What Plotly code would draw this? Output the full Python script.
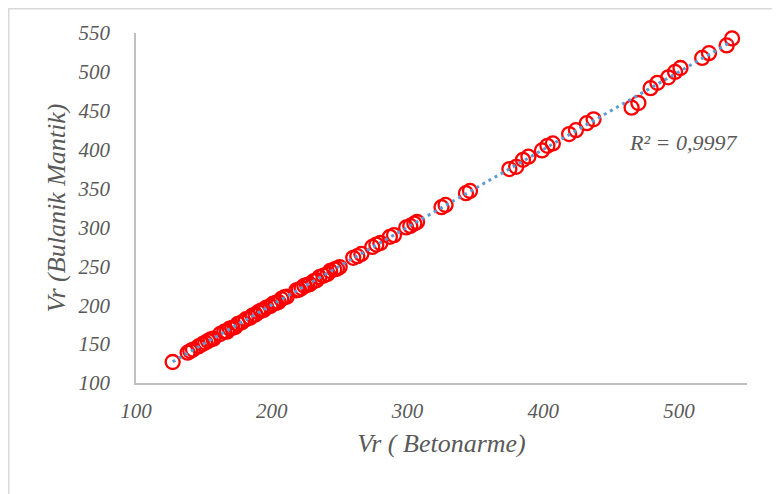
import numpy as np
import plotly.graph_objects as go

# Vr (Betonarme) vs Vr (Bulanik Mantik)
vr_betonarme = [127, 138, 140, 142, 146, 149, 151, 153, 155, 157, 162, 165, 167, 169, 171,
                173, 175, 178, 181, 184, 186, 188, 190, 192, 194, 196, 199, 201, 203, 205,
                207, 209, 211, 218, 220, 222, 224, 226, 228, 231, 233, 235, 238, 241, 243,
                246, 248, 250, 260, 263, 266, 274, 277, 280, 287, 290, 299, 302, 305, 307,
                325, 328, 343, 346, 375, 380, 385, 389, 399, 403, 407, 419, 424, 432, 437,
                465, 470, 479, 484, 492, 497, 501, 517, 522, 535, 539]
vr_bulanik = [127, 139, 141, 143, 147, 150, 152, 154, 156, 157, 163, 166, 166, 170, 171,
              172, 176, 178, 182, 184, 187, 188, 191, 193, 194, 197, 199, 202, 203, 204,
              208, 210, 211, 219, 220, 222, 225, 226, 227, 231, 232, 236, 238, 240, 244,
              246, 247, 249, 261, 263, 266, 275, 278, 280, 288, 290, 300, 302, 305, 307,
              326, 329, 344, 347, 375, 378, 387, 391, 399, 405, 408, 420, 425, 434, 439,
              454, 460, 479, 486, 493, 500, 505, 518, 524, 534, 543]
r2_label = "R² = 0,9997"
x_title = "Vr ( Betonarme)"
y_title = "Vr (Bulanik Mantik)"

FONT = "Times New Roman, Liberation Serif, serif"
GRAY = "#595959"

xa = np.array(vr_betonarme, dtype=float)
ya = np.array(vr_bulanik, dtype=float)
slope, intercept = np.polyfit(xa, ya, 1)
tx = np.array([xa.min(), xa.max()])
ty = slope * tx + intercept

fig = go.Figure()
fig.add_trace(go.Scatter(
    x=vr_betonarme, y=vr_bulanik, mode="markers",
    marker=dict(symbol="circle-open", size=14, color="#FF0000",
                line=dict(width=2.3, color="#FF0000")),
    showlegend=False, cliponaxis=False,
))
fig.add_trace(go.Scatter(
    x=tx, y=ty, mode="lines",
    line=dict(color="#5B9BD5", width=3, dash="3px,4px"),
    showlegend=False,
))

fig.add_annotation(
    x=0.895, y=0.686, xref="paper", yref="paper",
    text=r2_label, showarrow=False, xanchor="center", yanchor="middle",
    font=dict(family=FONT, size=22, color=GRAY, style="italic"),
)

fig.add_shape(type="rect", xref="paper", yref="paper",
              x0=(0.8 - 128) / 611, x1=1.2, y0=-0.5, y1=(375 - 0.8) / 350,
              line=dict(color="#D9D9D9", width=1.5), fillcolor="rgba(0,0,0,0)",
              layer="below")

fig.update_layout(
    width=772, height=486, autosize=False,
    margin=dict(l=128, r=33, t=25, b=111),
    paper_bgcolor="white", plot_bgcolor="white",
    font=dict(family=FONT, color=GRAY),
    xaxis=dict(
        range=[100, 550], tickvals=[100, 200, 300, 400, 500],
        showgrid=False, zeroline=False, showline=True,
        linecolor="#BFBFBF", linewidth=1.5, ticks="",
        tickfont=dict(family=FONT, size=21, color=GRAY, style="italic"),
        ticklabelstandoff=8,
        title=dict(text=x_title, standoff=12,
                   font=dict(family=FONT, size=26, color=GRAY, style="italic")),
    ),
    yaxis=dict(
        range=[100, 550], tickvals=[100, 150, 200, 250, 300, 350, 400, 450, 500, 550],
        showgrid=False, zeroline=False, showline=True,
        linecolor="#BFBFBF", linewidth=1.5, ticks="",
        tickfont=dict(family=FONT, size=21, color=GRAY, style="italic"),
        ticklabelstandoff=20,
        title=dict(text=y_title, standoff=4,
                   font=dict(family=FONT, size=26, color=GRAY, style="italic")),
    ),
)

fig.write_html("out.html")
